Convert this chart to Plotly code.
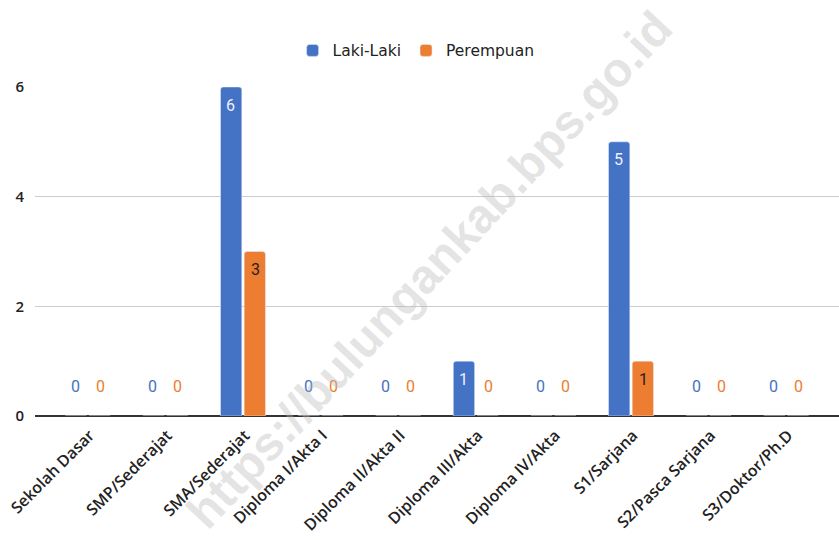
import plotly.graph_objects as go

categories = ["Sekolah Dasar", "SMP/Sederajat", "SMA/Sederajat", "Diploma I/Akta I",
              "Diploma II/Akta II", "Diploma III/Akta", "Diploma IV/Akta", "S1/Sarjana",
              "S2/Pasca Sarjana", "S3/Doktor/Ph.D"]
laki = [0, 0, 6, 0, 0, 1, 0, 5, 0, 0]
perempuan = [0, 0, 3, 0, 0, 0, 0, 1, 0, 0]
y_ticks = [0, 2, 4, 6]

BLUE = "#4472C4"
ORANGE = "#ED7D31"

fig = go.Figure()
fig.add_trace(go.Bar(name="Laki-Laki", x=categories, y=laki, marker_color=BLUE))
fig.add_trace(go.Bar(name="Perempuan", x=categories, y=perempuan, marker_color=ORANGE))

annotations = []
series = [(laki, -12.5, BLUE, "#eef1fb"), (perempuan, 12.5, ORANGE, "#222222")]
for vals, xs, col, incol in series:
    for cat, v in zip(categories, vals):
        if v == 0:
            annotations.append(dict(x=cat, y=v, text=str(v), showarrow=False, xshift=xs,
                                    yshift=30, font=dict(family="Roboto", size=16, color=col)))
        else:
            annotations.append(dict(x=cat, y=v, text=str(v), showarrow=False, xshift=xs,
                                    yshift=-18, font=dict(family="Roboto", size=16, color=incol)))

annotations.append(dict(
    xref="paper", yref="paper", x=0.491, y=0.444,
    text="<b>https://bulungankab.bps.go.id</b>", showarrow=False, textangle=-47,
    font=dict(family="Liberation Sans", size=48, color="rgba(185,185,185,0.40)"),
))

fig.update_layout(
    width=839, height=540,
    margin=dict(l=35, r=0, t=87, b=124),
    paper_bgcolor="white", plot_bgcolor="white",
    barmode="group", bargap=0.39, bargroupgap=0.1,
    barcornerradius=3,
    showlegend=True,
    legend=dict(orientation="h", x=0.474, xanchor="center", y=1.11, yanchor="middle",
                font=dict(family="DejaVu Sans", size=15.5, color="#222222"),
                traceorder="normal"),
    annotations=annotations,
    xaxis=dict(type="category", range=[-0.68, 9.68], tickangle=-45,
               tickfont=dict(family="Open Sans", size=16, color="#222222", weight=600),
               showgrid=False, ticks="", showline=False, ticklabelshift=2,
               ticklabelstandoff=6),
    yaxis=dict(range=[0, 6], tickvals=y_ticks, showgrid=True, gridcolor="#cccccc",
               zeroline=True, zerolinecolor="#333333", zerolinewidth=1.5,
               tickfont=dict(family="Open Sans", size=15, color="#222222", weight=600),
               ticks="", ticklabelstandoff=10),
)

fig.write_html("out.html", config={"displayModeBar": False},
               post_script="document.body.style.margin='0';")
